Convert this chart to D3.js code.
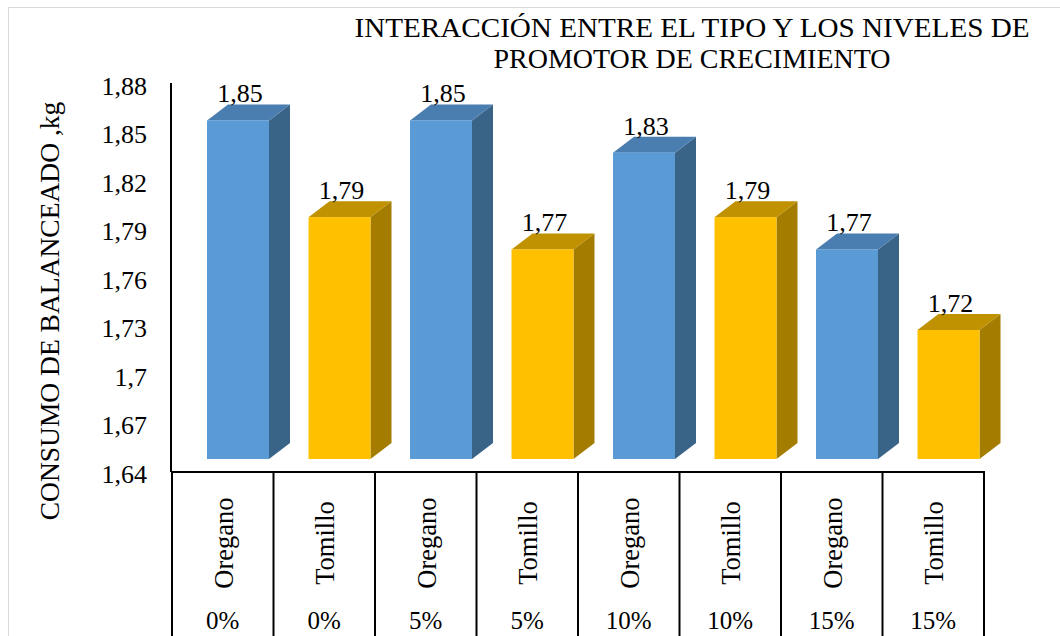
<!DOCTYPE html>
<html>
<head>
<meta charset="utf-8">
<script src="https://cdn.jsdelivr.net/npm/d3@7"></script>
<style>
  body { margin: 0; background: #fff; }
  svg text { font-family: "Liberation Serif", "Times New Roman", serif; fill: #000; }
</style>
</head>
<body>
<svg id="chart" width="1060" height="636"></svg>
<script>
// data
var levels = ["0%", "0%", "5%", "5%", "10%", "10%", "15%", "15%"];
var types = ["Oregano", "Tomillo", "Oregano", "Tomillo", "Oregano", "Tomillo", "Oregano", "Tomillo"];
var values = [1.85, 1.79, 1.85, 1.77, 1.83, 1.79, 1.77, 1.72];
var yTicks = [1.64, 1.67, 1.7, 1.73, 1.76, 1.79, 1.82, 1.85, 1.88];
var titleLines = ["INTERACCIÓN ENTRE EL  TIPO  Y  LOS NIVELES  DE", "PROMOTOR DE CRECIMIENTO"];
var yTitle = "CONSUMO DE BALANCEADO ,kg";

var colors = {
    "Oregano": {front: "#5b9bd5", top: "#4a7db0", side: "#3a6388"},
    "Tomillo": {front: "#ffc000", top: "#c09100", side: "#a37c00"}
};

var svg = d3.select("#chart");
var fmt = function(d) { return String(+d.toFixed(2)).replace(".", ","); };

// outer chart border (cut off at right and bottom)
svg.append("rect")
    .attr("x", 8.5).attr("y", 7.5)
    .attr("width", 1100).attr("height", 700)
    .attr("fill", "none")
    .attr("stroke", "#d9d9d9");

var x = d3.scaleBand()
    .domain(d3.range(values.length))
    .range([172, 984])
    .padding(0);

// front face of the bars
var y = d3.scaleLinear().domain([1.64, 1.88]).range([459, 72]);
// labels on the back wall
var yAxisScale = d3.scaleLinear().domain([1.64, 1.88]).range([473, 85]);

var depthX = 21, depthY = 16;
var barOff = 35, barW = 62;

// title
svg.append("g").selectAll("text")
    .data(titleLines)
    .enter().append("text")
    .attr("x", 692)
    .attr("y", function(d, i) { return 37 + i * 31; })
    .attr("text-anchor", "middle")
    .attr("font-size", 27)
    .attr("textLength", function(d, i) { return i == 0 ? 675 : 397; })
    .attr("lengthAdjust", "spacingAndGlyphs")
    .text(function(d) { return d; });

// y axis title
svg.append("text")
    .attr("transform", "translate(59," + 311 + ") rotate(-90)")
    .attr("text-anchor", "middle")
    .attr("font-size", 27.5)
    .text(yTitle);

// y tick labels
var yAxis = d3.axisLeft(yAxisScale)
    .tickValues(yTicks)
    .tickSize(0)
    .tickPadding(0)
    .tickFormat(fmt);

var gy = svg.append("g")
    .attr("transform", "translate(147,0)")
    .call(yAxis);
gy.select(".domain").remove();
gy.selectAll("text")
    .attr("font-family", "Liberation Serif")
    .attr("font-size", 26)
    .attr("dy", "0.35em");

// bars
var bars = svg.append("g").selectAll("g")
    .data(values)
    .enter().append("g");

bars.append("polygon")
    .attr("fill", function(d, i) { return colors[types[i]].side; })
    .attr("points", function(d, i) {
        var x1 = x(i) + barOff + barW;
        return [[x1, y(d)], [x1 + depthX, y(d) - depthY], [x1 + depthX, y(1.64) - depthY], [x1, y(1.64)]].join(" ");
    });

bars.append("polygon")
    .attr("fill", function(d, i) { return colors[types[i]].top; })
    .attr("points", function(d, i) {
        var x0 = x(i) + barOff, x1 = x0 + barW;
        return [[x0, y(d)], [x0 + depthX, y(d) - depthY], [x1 + depthX, y(d) - depthY], [x1, y(d)]].join(" ");
    });

bars.append("rect")
    .attr("fill", function(d, i) { return colors[types[i]].front; })
    .attr("x", function(d, i) { return x(i) + barOff; })
    .attr("y", function(d) { return y(d); })
    .attr("width", barW)
    .attr("height", function(d) { return y(1.64) - y(d); });

// data labels
bars.append("text")
    .attr("x", function(d, i) { return x(i) + barOff + barW / 2 + 2; })
    .attr("y", function(d) { return y(d) - depthY - 2; })
    .attr("text-anchor", "middle")
    .attr("font-size", 26)
    .text(fmt);

// axis lines and category table
var lines = svg.append("g")
    .attr("stroke", "#000")
    .attr("stroke-width", 2);

lines.append("line")
    .attr("x1", 171).attr("x2", 171)
    .attr("y1", 83).attr("y2", 472);

lines.append("line")
    .attr("x1", 171).attr("x2", 985)
    .attr("y1", 472).attr("y2", 472);

lines.selectAll(".div")
    .data(d3.range(values.length + 1))
    .enter().append("line")
    .attr("class", "div")
    .attr("x1", function(i) { return i < values.length ? x(i) : x(i - 1) + x.bandwidth(); })
    .attr("x2", function(i) { return i < values.length ? x(i) : x(i - 1) + x.bandwidth(); })
    .attr("y1", 472).attr("y2", 640);

// category labels
var cats = svg.append("g");
cats.selectAll(".type")
    .data(types)
    .enter().append("text")
    .attr("class", "type")
    .attr("transform", function(d, i) {
        return "translate(" + (x(i) + x.bandwidth() / 2 + 10) + ",543) rotate(-90)";
    })
    .attr("text-anchor", "middle")
    .attr("font-size", 26.5)
    .text(function(d) { return d; });

cats.selectAll(".level")
    .data(levels)
    .enter().append("text")
    .attr("class", "level")
    .attr("x", function(d, i) { return x(i) + x.bandwidth() / 2; })
    .attr("y", 629)
    .attr("text-anchor", "middle")
    .attr("font-size", 25)
    .text(function(d) { return d; });
</script>
</body>
</html>
